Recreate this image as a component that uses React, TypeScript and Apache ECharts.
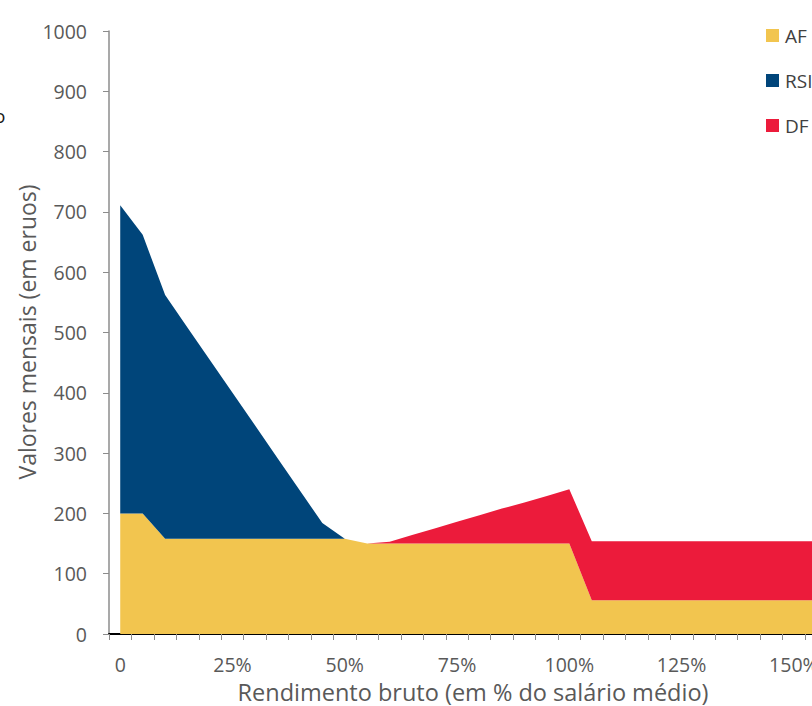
import React, { useEffect, useRef } from "react";
import * as echarts from "echarts";

const categories: string[] = [
  "0", "5%", "10%", "15%", "20%", "25%", "30%", "35%", "40%", "45%", "50%",
  "55%", "60%", "65%", "70%", "75%", "80%", "85%", "90%", "95%", "100%",
  "105%", "110%", "115%", "120%", "125%", "130%", "135%", "140%", "145%", "150%",
  "155%", "160%",
];

const afValues: (number | null)[] = [
  200, 200, 158, 158, 158, 158, 158, 158, 158, 158, 158,
  150, 150, 150, 150, 150, 150, 150, 150, 150, 150,
  56, 56, 56, 56, 56, 56, 56, 56, 56, 56, 56, 56,
];

const rsiValues: (number | null)[] = [
  511, 462, 404, 350, 296, 242, 188, 134, 80, 26, 0,
  null, null, null, null, null, null, null, null, null, null,
  null, null, null, null, null, null, null, null, null, null, null, null,
];

const dfValues: (number | null)[] = [
  null, null, null, null, null, null, null, null, null, null, null,
  0, 3, 14, 25, 36, 47, 58, 68, 79, 90,
  98, 98, 98, 98, 98, 98, 98, 98, 98, 98, 98, 98,
];

const seriesNames = ["AF", "RSI", "DF"];
const seriesColors = ["#F2C54F", "#00457A", "#EC1B3B"];
const yTicks = [0, 1000, 100];

const FONT = "'Open Sans', 'Noto Sans', sans-serif";

export default function App() {
  const ref = useRef<HTMLDivElement>(null);

  useEffect(() => {
    if (!ref.current) return;
    const chart = echarts.init(ref.current, undefined, { renderer: "svg" });
    const mk = (i: number, data: (number | null)[]) => ({
      name: seriesNames[i],
      type: "line",
      stack: "total",
      data,
      symbol: "none",
      showSymbol: false,
      lineStyle: { width: 0 },
      areaStyle: { color: seriesColors[i], opacity: 1 },
      itemStyle: { color: seriesColors[i] },
      connectNulls: false,
    });
    chart.setOption({
      animation: false,
      textStyle: { fontFamily: FONT },
      grid: { left: 109, right: 30, top: 31, bottom: 72, containLabel: false },
      legend: {
        orient: "vertical",
        left: 766,
        top: 26,
        padding: 0,
        itemWidth: 13,
        itemHeight: 13,
        itemGap: 26,
        icon: "rect",
        data: seriesNames,
        textStyle: { color: "#404040", fontSize: 19, fontFamily: FONT, padding: [0, 0, 0, 1] },
      },
      xAxis: {
        type: "category",
        data: categories,
        boundaryGap: true,
        axisLine: { show: true, lineStyle: { color: "#000000", width: 2 } },
        axisTick: { show: true, interval: 0, length: 6, lineStyle: { color: "#8c8c8c" } },
        axisLabel: {
          interval: 4,
          margin: 20,
          color: "#595959",
          fontSize: 19.5,
          fontFamily: FONT,
        },
        splitLine: { show: false },
      },
      yAxis: {
        type: "value",
        min: yTicks[0],
        max: yTicks[1],
        interval: yTicks[2],
        axisLine: { show: true, lineStyle: { color: "#8c8c8c", width: 1.5 } },
        axisTick: { show: true, length: 6, lineStyle: { color: "#8c8c8c" } },
        axisLabel: {
          margin: 22,
          color: "#595959",
          fontSize: 19.5,
          fontFamily: FONT,
          formatter: (v: number) => String(v),
        },
        splitLine: { show: false },
      },
      graphic: [
        {
          type: "text",
          x: 473,
          y: 692,
          style: {
            text: "Rendimento bruto (em % do salário médio)",
            fill: "#595959",
            font: `23.5px ${FONT}`,
            align: "center",
            verticalAlign: "middle",
          },
        },
        {
          type: "text",
          x: 27,
          y: 332,
          rotation: Math.PI / 2,
          style: {
            text: "Valores mensais (em eruos)",
            fill: "#595959",
            font: `23px ${FONT}`,
            align: "center",
            verticalAlign: "middle",
          },
        },
        {
          type: "text",
          x: -6,
          y: 116,
          style: {
            text: "o",
            fill: "#1a1a1a",
            font: `19px ${FONT}`,
            align: "left",
            verticalAlign: "middle",
          },
        },
      ],
      series: [mk(0, afValues), mk(1, rsiValues), mk(2, dfValues)],
    });
    return () => chart.dispose();
  }, []);

  return (
    <div
      style={{
        position: "fixed",
        left: 0,
        top: 0,
        width: 812,
        height: 706,
        overflow: "hidden",
        background: "#ffffff",
      }}
    >
      <div ref={ref} style={{ width: 880, height: 706 }} />
    </div>
  );
}
